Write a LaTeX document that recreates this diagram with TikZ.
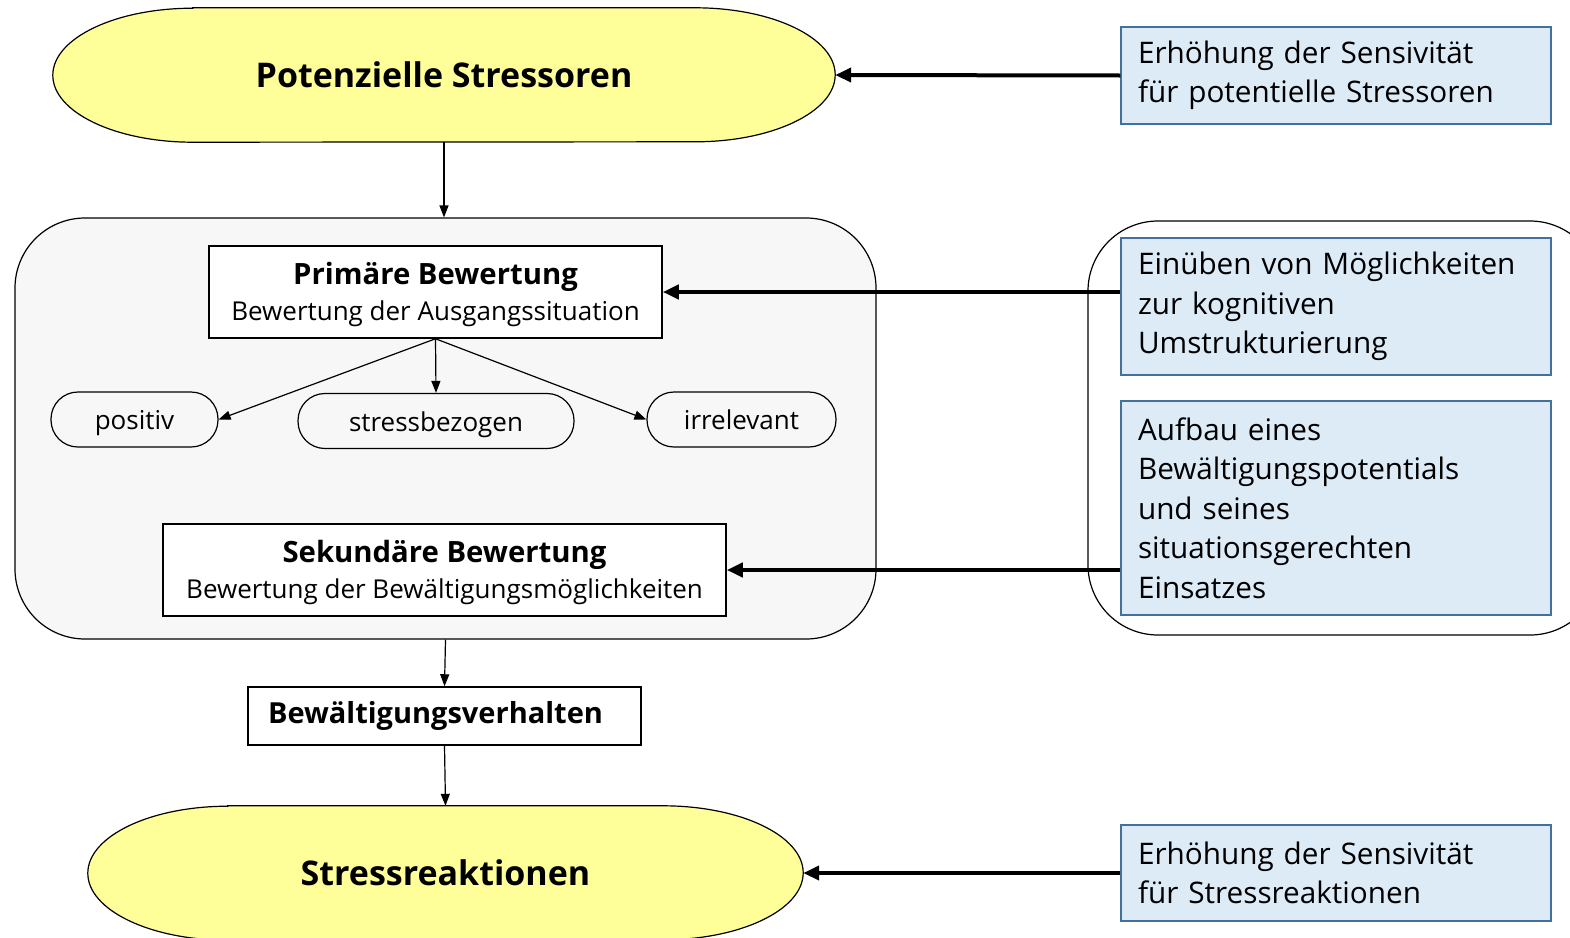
\documentclass[tikz,border=0pt]{standalone}
\usepackage{fontspec}
\setmainfont{Open Sans}
\usetikzlibrary{arrows.meta,backgrounds}
\definecolor{ylw}{RGB}{255,255,153}
\definecolor{bfill}{RGB}{221,235,247}
\definecolor{bdraw}{RGB}{65,113,156}
\definecolor{gfill}{RGB}{247,247,247}
\begin{document}
\begin{tikzpicture}[x=1pt,y=-1pt,
  ovaltext/.style={inner sep=0pt, font=\bfseries\fontsize{34}{40}\selectfont},
  ovalshape/.style={draw, fill=ylw, line width=1.2pt},
  bluebox/.style={draw=bdraw, fill=bfill, line width=1.5pt, minimum width=430pt, text width=396pt, inner xsep=17pt, inner ysep=0pt, align=left, font=\fontsize{29.7}{39.5}\selectfont},
  wbox/.style={draw, line width=1.5pt, fill=white, inner sep=0pt, align=center},
  pill/.style={draw, rounded corners=27pt, minimum height=55pt, inner sep=0pt, fill=gfill, font=\fontsize{26}{30}\selectfont, line width=1.2pt, text height=20.5pt, text depth=0pt},
  grpbox/.style={draw, rounded corners=70pt, line width=1.2pt, inner sep=0pt},
  thinarr/.style={-{Triangle[length=12pt,width=9pt]}, line width=1.2pt},
  thickarr/.style={-{Triangle[length=16pt,width=14pt]}, line width=4pt}
]
\useasboundingbox (0,0) rectangle (1570,937);
\node[grpbox, fill=gfill, minimum width=861pt, minimum height=421pt] (grp) at (445.5,428.5) {};
\node[grpbox, minimum width=512pt, minimum height=414pt] (rgrp) at (1344,428) {};

\node[ovaltext, minimum width=782pt, minimum height=134pt] (pot) at (444,75) {Potenzielle Stressoren};
\node[ovaltext, minimum width=715pt, minimum height=134pt] (sr) at (445.5,873) {Stressreaktionen};
\begin{scope}[on background layer]
\foreach \o in {pot,sr}{
  \path[ovalshape] ([xshift=140pt]\o.north west) -- ([xshift=-140pt]\o.north east)
    arc[start angle=90, end angle=-90, x radius=140pt, y radius=67pt]
    -- ([xshift=140pt]\o.south west)
    arc[start angle=-90, end angle=-270, x radius=140pt, y radius=67pt] -- cycle;
}
\end{scope}

\node[bluebox, minimum height=97pt] (b1) at (1336,75.5) {Erhöhung der Sensivität\\für potentielle Stressoren};
\node[bluebox, minimum height=137pt] (b2) at (1336,306.5) {Einüben von Möglichkeiten\\zur kognitiven\\Umstrukturierung};
\node[bluebox, minimum height=214pt] (b3) at (1336,508) {Aufbau eines\\Bewältigungspotentials\\und seines\\situationsgerechten\\Einsatzes};
\node[bluebox, minimum height=96pt] (b4) at (1336,873) {Erhöhung der Sensivität\\für Stressreaktionen};

\node[wbox, minimum width=453pt, minimum height=92pt] (prim) at (435.5,292) {{\bfseries\fontsize{29.3}{36}\selectfont\rule{0pt}{28pt}Primäre Bewertung}\\[8pt]{\fontsize{26}{36}\selectfont Bewertung der Ausgangssituation}};
\node[wbox, minimum width=563pt, minimum height=92pt] (sek) at (444.5,570) {{\bfseries\fontsize{29.3}{36}\selectfont\rule{0pt}{28pt}Sekundäre Bewertung}\\[8pt]{\fontsize{26}{36}\selectfont Bewertung der Bewältigungsmöglichkeiten}};
\node[wbox, minimum width=393pt, minimum height=58pt, font=\bfseries\fontsize{29}{34}\selectfont] (bew) at (444.5,716) {Bewältigungsverhalten\hspace*{18pt}};

\node[pill, minimum width=167pt] (pos) at (134.5,419.5) {positiv};
\node[pill, minimum width=276pt] (str) at (436,421) {stressbezogen};
\node[pill, minimum width=189pt] (irr) at (741.5,419.5) {irrelevant};

\draw[thinarr] (pot.south) -- (pot.south |- grp.north);
\draw[thinarr] (prim.south) -- (pos.east);
\draw[thinarr] (prim.south) -- (str.north);
\draw[thinarr] (prim.south) -- (irr.west);
\draw[thinarr] (grp.south) -- (bew.north);
\draw[thinarr] (bew.south) -- (sr.north);

\draw[thickarr] (b1.west) -- (pot.east);
\draw[thickarr] (prim.east -| b2.west) -- (prim.east);
\draw[thickarr] (sek.east -| b3.west) -- (sek.east);
\draw[thickarr] (b4.west) -- (sr.east);
\end{tikzpicture}
\end{document}
